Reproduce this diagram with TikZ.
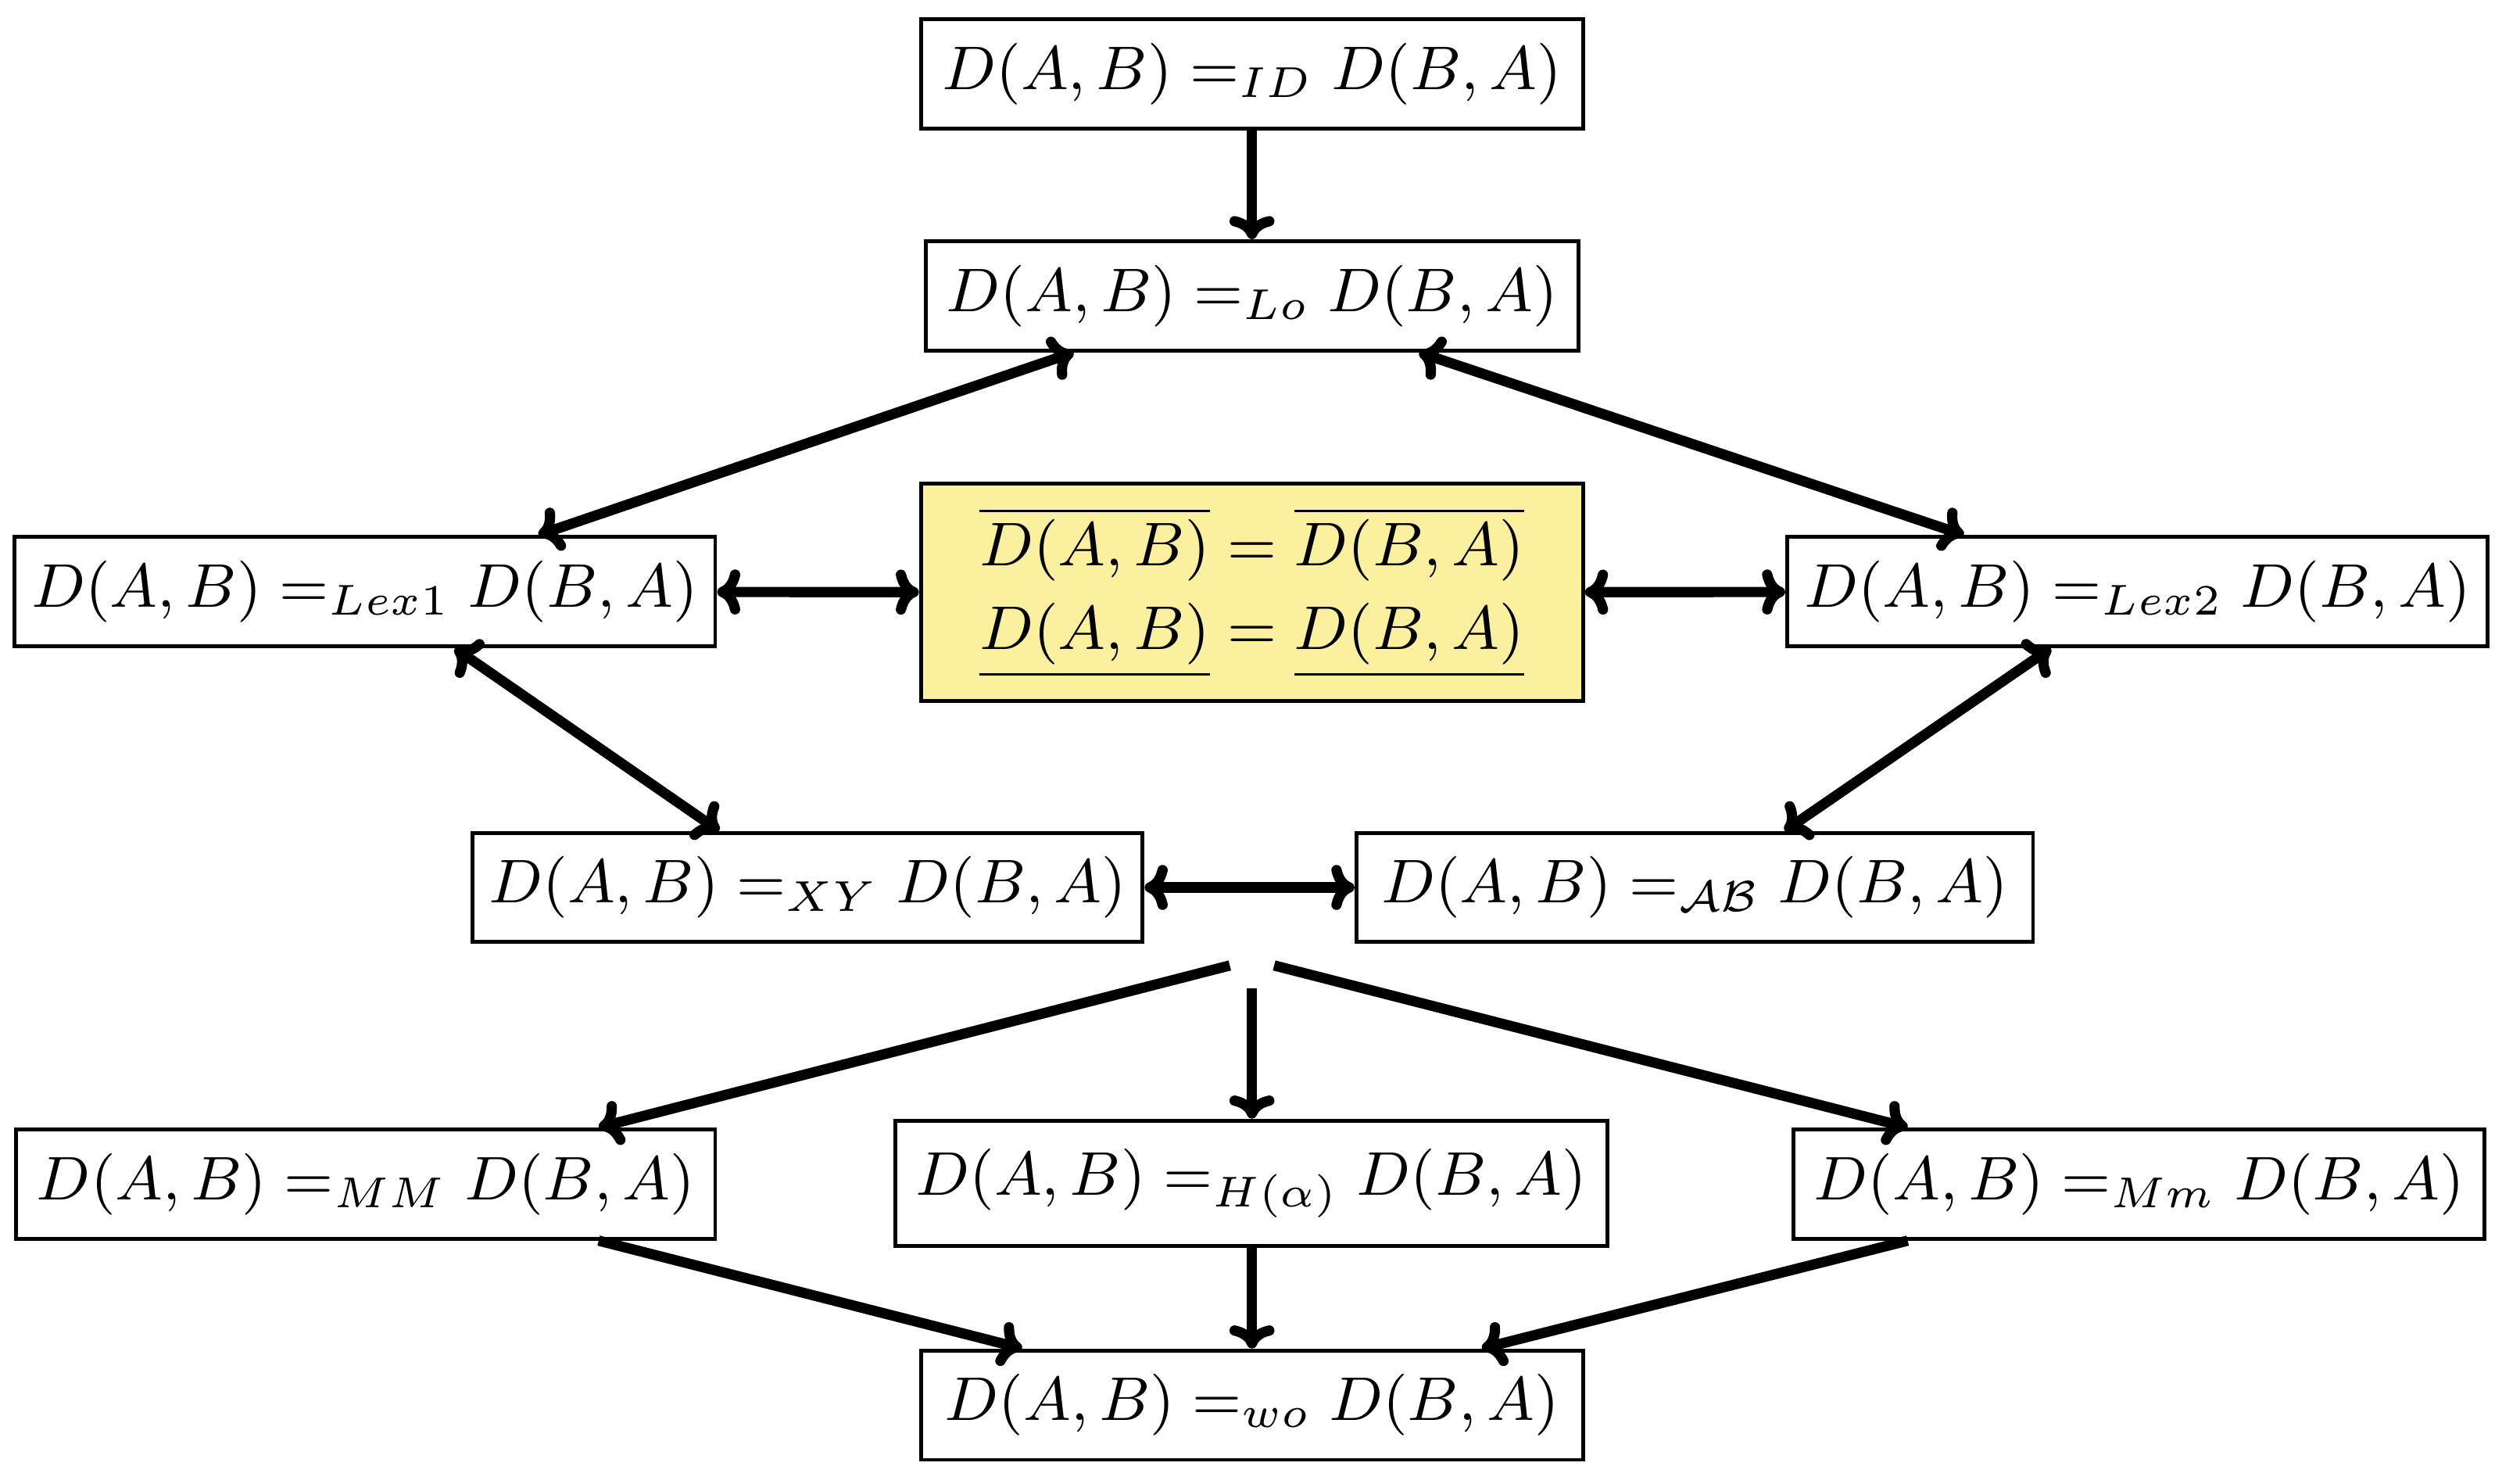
\RequirePackage{fix-cm}
\documentclass[tikz,border=0pt]{standalone}
\usetikzlibrary{arrows.meta,calc}
\definecolor{hilite}{RGB}{250,240,160}
\begin{document}
\begin{tikzpicture}[x=0.25pt,y=-0.25pt,
  box/.style={draw, line width=0.6pt, inner sep=0pt, minimum height=17pt, font=\fontsize{9.6}{11.5}\selectfont},
  link/.style={line width=1.6pt},
  >={Computer Modern Rightarrow[length=3.6pt,width=7pt]}]
\useasboundingbox (0,0) rectangle (1568,918.7);
\node[box, minimum width=103pt] (id) at (779,46) {$D(A,B) =_{ID} D(B,A)$};
\node[box, minimum width=101.5pt] (lo) at (779,184) {$D(A,B) =_{Lo} D(B,A)$};
\node[box, minimum width=109pt] (lex1) at (227,368) {$D(A,B) =_{Lex1} D(B,A)$};
\node[box, fill=hilite, minimum width=103pt, minimum height=33.75pt, align=center] (yel) at (779,368.5)
  {$\overline{D(A,B)} = \overline{D(B,A)}$\\[1.5pt] $\underline{D(A,B)} = \underline{D(B,A)}$};
\node[box, minimum width=109pt] (lex2) at (1330,368) {$D(A,B) =_{Lex2} D(B,A)$};
\node[box, minimum width=104.25pt] (xy) at (502.5,552) {$D(A,B) =_{XY} D(B,A)$};
\node[box, minimum width=105.25pt] (ab) at (1054.5,552) {$D(A,B) =_{\mathcal{AB}} D(B,A)$};
\node[box, minimum width=108.75pt] (mm) at (227.5,736.5) {$D(A,B) =_{MM} D(B,A)$};
\node[box, minimum width=110.75pt, minimum height=19.5pt] (h) at (778.5,736) {$D(A,B) =_{H(\alpha)} D(B,A)$};
\node[box, minimum width=107.5pt] (mmm) at (1331,736.5) {$D(A,B) =_{Mm} D(B,A)$};
\node[box, minimum width=103pt] (wo) at (779,874) {$D(A,B) =_{wo} D(B,A)$};
\node[inner sep=0pt, minimum width=6.5pt, minimum height=8.5pt] (split) at (779,597) {};

\draw[link,->] (id) -- (lo);
\draw[link,<->] ($(lo.south)+(-111,0)$) -- ($(lex1.north)+(108,0)$);
\draw[link,<->] ($(lo.south)+(104,0)$) -- ($(lex2.north)+(-108,0)$);
\draw[link,<->] (lex1) -- (yel);
\draw[link,<->] (yel) -- (lex2);
\draw[link,<->] ($(lex1.south)+(56,0)$) -- ($(xy.north)+(-55,0)$);
\draw[link,<->] ($(lex2.south)+(-54,0)$) -- ($(ab.north)+(56,0)$);
\draw[link,<->] (xy) -- (ab);
\draw[link,->] (split) -- ($(mm.north)+(145,0)$);
\draw[link,->] (split) -- (split |- h.north);
\draw[link,->] (split) -- ($(mmm.north)+(-144,0)$);
\draw[link,->] ($(mm.south)+(145,0)$) -- ($(wo.north)+(-143,0)$);
\draw[link,->] (h.south -| wo) -- (wo);
\draw[link,->] ($(mmm.south)+(-144,0)$) -- ($(wo.north)+(143,0)$);
\end{tikzpicture}
\end{document}
